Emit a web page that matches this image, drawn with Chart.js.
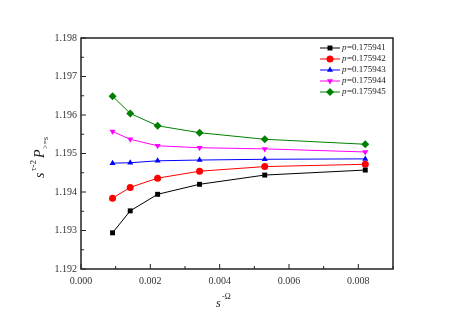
<!DOCTYPE html>
<html>
<head>
    <title>Scaling plot</title>
    <script src="https://cdn.jsdelivr.net/npm/chart.js"></script>
    <style>
        body { margin: 0; background: #fff; }
        #wrap { width: 457px; height: 323px; }
    </style>
</head>
<body>
    <div id="wrap"><canvas id="chart"></canvas></div>

    <script>
        // x values (s^-Omega)
        var xValues = [0.00091, 0.00142, 0.00221, 0.00342, 0.0053, 0.0082];

        // series values
        var p1 = [1.19294, 1.19351, 1.19394, 1.19420, 1.19444, 1.19457];
        var p2 = [1.19384, 1.19412, 1.19436, 1.19454, 1.19466, 1.19472];
        var p3 = [1.19475, 1.19476, 1.19481, 1.19483, 1.19485, 1.19486];
        var p4 = [1.19557, 1.19537, 1.19520, 1.19515, 1.19512, 1.19504];
        var p5 = [1.19649, 1.19604, 1.19572, 1.19554, 1.19537, 1.19524];

        var seriesLabels = ['0.175941', '0.175942', '0.175943', '0.175944', '0.175945'];
        var xTicks = [0, 0.002, 0.004, 0.006, 0.008];
        var yTicks = [1.192, 1.193, 1.194, 1.195, 1.196, 1.197, 1.198];

        var serif = '"Liberation Serif", "DejaVu Serif", serif';

        function pts(ys) {
            return ys.map(function(y, i) { return { x: xValues[i], y: y }; });
        }

        function ds(i, ys, color, style, rot) {
            return {
                label: 'p=' + seriesLabels[i],
                data: pts(ys),
                borderColor: color,
                backgroundColor: color,
                borderWidth: 1,
                pointStyle: style,
                pointRotation: rot || 0,
                pointRadius: style === 'rectRot' ? 4 : 3.5,
                pointBorderWidth: 0,
                tension: 0
            };
        }

        // frame, inward ticks, axis titles, legend
        var decor = {
            id: 'decor',
            afterDraw: function(chart) {
                var c = chart.ctx, a = chart.chartArea;
                var xs = chart.scales.x, ys = chart.scales.y;
                c.save();
                c.strokeStyle = '#222';
                c.lineWidth = 1.5;
                c.strokeRect(a.left, a.top, a.right - a.left, a.bottom - a.top);

                c.lineWidth = 1;
                var v;
                for (v = 0; v <= 0.0090001; v += 0.001) {
                    var px = xs.getPixelForValue(v);
                    var major = Math.round(v * 1000) % 2 === 0;
                    c.beginPath();
                    c.moveTo(px, a.bottom);
                    c.lineTo(px, a.bottom - (major ? 5 : 3));
                    c.stroke();
                }
                for (v = 1.192; v <= 1.1980001; v += 0.0005) {
                    var py = ys.getPixelForValue(v);
                    var maj = Math.round(v * 2000) % 2 === 0;
                    c.beginPath();
                    c.moveTo(a.left, py);
                    c.lineTo(a.left + (maj ? 5 : 3), py);
                    c.stroke();
                }

                // x title: s^-Ω
                c.fillStyle = '#222';
                c.textBaseline = 'alphabetic';
                c.font = 'italic 12px ' + serif;
                c.fillText('s', 216, 307);
                c.font = '8px ' + serif;
                c.fillText('-Ω', 222, 299);

                // y title: s^(τ-2) P_(>=s), rotated
                c.save();
                c.translate(44, 178);
                c.rotate(-Math.PI / 2);
                c.font = 'italic 14px ' + serif;
                c.fillText('s', 0, 0);
                c.font = '9px ' + serif;
                c.fillText('τ-2', 7, -8);
                c.font = 'italic 14px ' + serif;
                c.fillText('P', 20, 0);
                c.font = '8px ' + serif;
                c.fillText('>=s', 29, 4);
                c.restore();

                // legend
                chart.data.datasets.forEach(function(d, i) {
                    var y = 48 + i * 11;
                    c.strokeStyle = d.borderColor;
                    c.lineWidth = 1;
                    c.beginPath();
                    c.moveTo(320, y);
                    c.lineTo(340, y);
                    c.stroke();
                    c.fillStyle = d.backgroundColor;
                    Chart.helpers.drawPoint(c, {
                        pointStyle: d.pointStyle,
                        rotation: d.pointRotation,
                        radius: d.pointRadius,
                        borderWidth: 0
                    }, 330, y);
                    c.fillStyle = '#222';
                    c.textBaseline = 'middle';
                    c.font = 'italic 9px ' + serif;
                    c.fillText('p', 342, y);
                    c.font = '9px ' + serif;
                    c.fillText('=' + seriesLabels[i], 347, y);
                });
                c.restore();
            }
        };

        var ctx = document.getElementById('chart').getContext('2d');
        new Chart(ctx, {
            type: 'line',
            data: {
                datasets: [
                    ds(0, p1, '#000000', 'rect'),
                    ds(1, p2, '#ff0000', 'circle'),
                    ds(2, p3, '#0000ff', 'triangle'),
                    ds(3, p4, '#ff00ff', 'triangle', 180),
                    ds(4, p5, '#008000', 'rectRot')
                ]
            },
            options: {
                responsive: true,
                maintainAspectRatio: false,
                animation: false,
                layout: { padding: { left: 0, top: 38, right: 64, bottom: 0 } },
                plugins: { legend: { display: false }, tooltip: { enabled: false } },
                scales: {
                    x: {
                        type: 'linear',
                        min: 0,
                        max: 0.009,
                        afterFit: function(s) { s.height = 54; },
                        afterBuildTicks: function(s) {
                            s.ticks = xTicks.map(function(v) { return { value: v }; });
                        },
                        grid: { display: false, drawTicks: false },
                        border: { display: false },
                        ticks: {
                            padding: 6,
                            color: '#333',
                            font: { family: serif, size: 10 },
                            maxRotation: 0,
                            callback: function(v) { return v.toFixed(3); }
                        }
                    },
                    y: {
                        min: 1.192,
                        max: 1.198,
                        afterFit: function(s) { s.width = 81; },
                        afterBuildTicks: function(s) {
                            s.ticks = yTicks.map(function(v) { return { value: v }; });
                        },
                        grid: { display: false, drawTicks: false },
                        border: { display: false },
                        ticks: {
                            padding: 4,
                            color: '#333',
                            font: { family: serif, size: 10 },
                            callback: function(v) { return v.toFixed(3); }
                        }
                    }
                }
            },
            plugins: [decor]
        });
    </script>
</body>
</html>
